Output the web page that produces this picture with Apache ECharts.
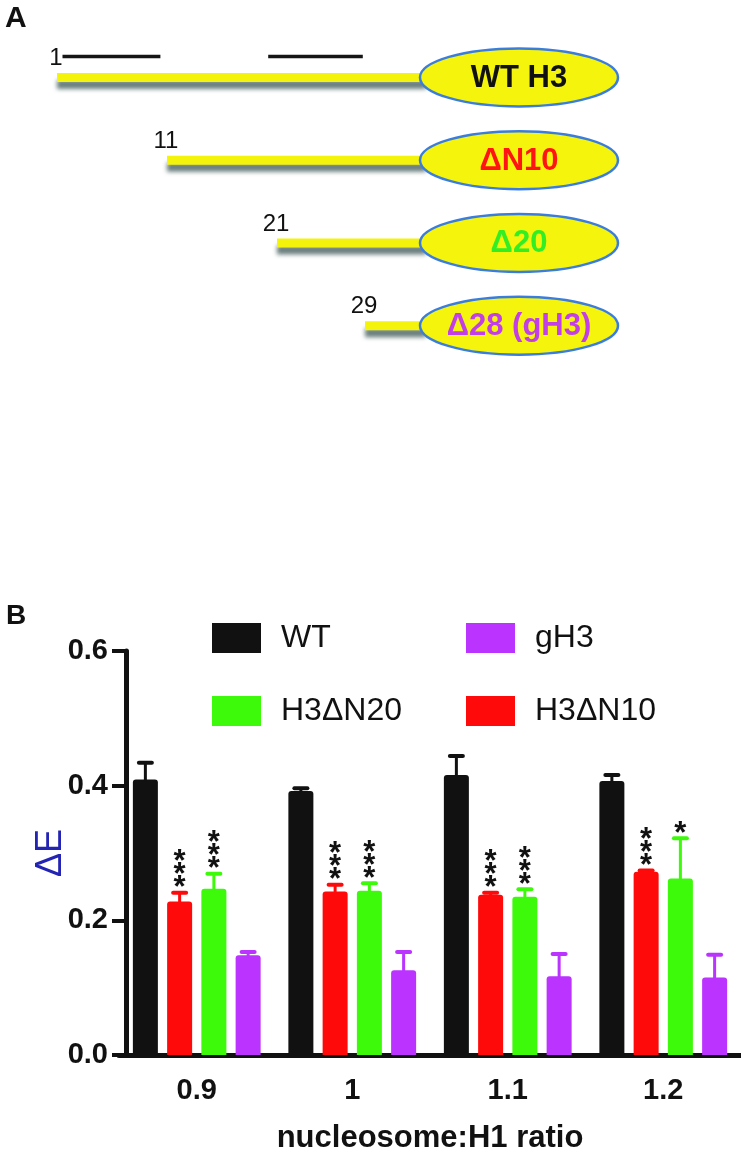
<!DOCTYPE html>
<html><head><meta charset="utf-8">
<script src="https://cdn.jsdelivr.net/npm/echarts@6/dist/echarts.min.js"></script>
<style>html,body{margin:0;padding:0;background:#fff}#c{width:741px;height:1155px}</style>
</head><body><div id="c"></div>
<script>
// ---------- Panel A data (schematic, residue scale) ----------
const constructs = ['WT H3', 'ΔN10', 'Δ20', 'Δ28 (gH3)'];
const constructColors = ['#111111', '#ff1414', '#33ee22', '#c23ee6'];
const startResidues = [1, 11, 21, 29];
const coreStart = 34;
const coreEnd = 52;
const markedRegions = [[1.5, 10.4], [20.2, 28.8]];

// ---------- Panel B data ----------
const ratios = ['0.9', '1', '1.1', '1.2'];
const seriesNames = ['WT', 'H3ΔN10', 'H3ΔN20', 'gH3'];
const seriesColors = ['#111111', '#ff0a0a', '#3cfa0a', '#bb33ff'];
const wtMean = [0.409, 0.392, 0.416, 0.407];
const wtErr = [0.025, 0.004, 0.028, 0.009];
const n10Mean = [0.228, 0.243, 0.238, 0.272];
const n10Err = [0.013, 0.010, 0.003, 0.002];
const n20Mean = [0.247, 0.244, 0.235, 0.262];
const n20Err = [0.022, 0.011, 0.011, 0.060];
const gh3Mean = [0.148, 0.126, 0.117, 0.115];
const gh3Err = [0.005, 0.027, 0.033, 0.034];
const wtSig = ['', '', '', ''];
const n10Sig = ['***', '***', '***', '***'];
const n20Sig = ['***', '***', '***', '*'];
const gh3Sig = ['', '', '', ''];

const FONT = '"Liberation Sans", Arial, sans-serif';
const barW = 25;
const barGapRatio = 0.37;
const barStep = barW * (1 + barGapRatio);

function errSeries(k, means, errs, sigs, color) {
  return {
    type: 'custom', xAxisIndex: 0, yAxisIndex: 0, z: 3,
    encode: { x: 0, y: 1 },
    data: means.map((m, i) => [i, m, errs[i]]),
    renderItem: (params, api) => {
      const i = params.dataIndex;
      const ci = api.value(0), m = api.value(1), e = api.value(2);
      const base = api.coord([ci, m]);
      const tip = api.coord([ci, m + e]);
      const x = base[0] + (k - 1.5) * barStep;
      const children = [
        { type: 'line', shape: { x1: x, y1: base[1] + 2, x2: x, y2: tip[1] }, style: { stroke: color, lineWidth: 3 } },
        { type: 'line', shape: { x1: x - 6.5, y1: tip[1], x2: x + 6.5, y2: tip[1] }, style: { stroke: color, lineWidth: 4, lineCap: 'round' } }
      ];
      const n = sigs[i].length;
      for (let j = 0; j < n; j++) {
        children.push({
          type: 'text', x: x, y: tip[1] - 11 - j * 13 + 7,
          style: { text: '*', fill: '#111', font: 'bold 31px ' + FONT, align: 'center', verticalAlign: 'middle' }
        });
      }
      return { type: 'group', children };
    }
  };
}

const chart = echarts.init(document.getElementById('c'), null, { renderer: 'canvas' });
chart.setOption({
  backgroundColor: '#ffffff',
  animation: false,
  title: [
    { text: 'A', left: 0, top: -1, textStyle: { fontFamily: FONT, fontWeight: 'bold', fontSize: 30, color: '#111' } },
    { text: 'B', left: 1, top: 597, textStyle: { fontFamily: FONT, fontWeight: 'bold', fontSize: 28, color: '#111' } }
  ],
  legend: [
    { data: ['WT', 'H3ΔN20'], orient: 'vertical', left: 207, top: 617, itemWidth: 49, itemHeight: 30, itemGap: 41, icon: 'rect',
      textStyle: { fontFamily: FONT, fontSize: 32, color: '#111', lineHeight: 32, padding: [0, 0, 0, 15] } },
    { data: ['gH3', 'H3ΔN10'], orient: 'vertical', left: 461, top: 617, itemWidth: 49, itemHeight: 30, itemGap: 41, icon: 'rect',
      textStyle: { fontFamily: FONT, fontSize: 32, color: '#111', lineHeight: 32, padding: [0, 0, 0, 15] } }
  ],
  grid: [
    { left: 119, top: 651, width: 627, height: 409, containLabel: false },
    { left: 46, top: 36, width: 605, height: 331, containLabel: false }
  ],
  xAxis: [
    {
      gridIndex: 0, type: 'category', data: ratios,
      axisLine: { lineStyle: { color: '#111', width: 5 } },
      axisTick: { alignWithLabel: true, length: 14, lineStyle: { width: 4, color: '#111' } },
      axisLabel: { fontFamily: FONT, fontWeight: 'bold', fontSize: 29, color: '#111', margin: 21 },
      name: 'nucleosome:H1 ratio', nameLocation: 'middle', nameGap: 68, nameMoveOverlap: false,
      nameTextStyle: { fontFamily: FONT, fontWeight: 'bold', fontSize: 31, color: '#111' }
    },
    { gridIndex: 1, type: 'value', min: 0, max: 55, show: false }
  ],
  yAxis: [
    {
      gridIndex: 0, type: 'value', min: 0, max: 0.6, interval: 0.2, offset: -7,
      axisLine: { show: true, lineStyle: { color: '#111', width: 5 } },
      axisTick: { show: true, length: 14, lineStyle: { width: 4, color: '#111' } },
      axisLabel: { fontFamily: FONT, fontWeight: 'bold', fontSize: 29, color: '#111', margin: 18, formatter: v => v.toFixed(1) },
      splitLine: { show: false },
      name: 'ΔE', nameLocation: 'middle', nameRotate: 90, nameGap: 57, nameMoveOverlap: false,
      nameTextStyle: { fontFamily: FONT, fontSize: 36, color: '#2424b4' }
    },
    { gridIndex: 1, type: 'category', data: constructs, inverse: true, show: false }
  ],
  series: [
    { name: 'WT', type: 'bar', data: wtMean, barWidth: barW, barGap: (barGapRatio * 100) + '%', itemStyle: { color: seriesColors[0], borderRadius: [3, 3, 0, 0] } },
    { name: 'H3ΔN10', type: 'bar', data: n10Mean, barWidth: barW, barGap: (barGapRatio * 100) + '%', itemStyle: { color: seriesColors[1], borderRadius: [3, 3, 0, 0] } },
    { name: 'H3ΔN20', type: 'bar', data: n20Mean, barWidth: barW, barGap: (barGapRatio * 100) + '%', itemStyle: { color: seriesColors[2], borderRadius: [3, 3, 0, 0] } },
    { name: 'gH3', type: 'bar', data: gh3Mean, barWidth: barW, barGap: (barGapRatio * 100) + '%', itemStyle: { color: seriesColors[3], borderRadius: [3, 3, 0, 0] } },
    errSeries(0, wtMean, wtErr, wtSig, seriesColors[0]),
    errSeries(1, n10Mean, n10Err, n10Sig, seriesColors[1]),
    errSeries(2, n20Mean, n20Err, n20Sig, seriesColors[2]),
    errSeries(3, gh3Mean, gh3Err, gh3Sig, seriesColors[3]),
    {
      type: 'custom', xAxisIndex: 1, yAxisIndex: 1, encode: { x: 0, y: 1 },
      data: markedRegions.map(r => [r[0], 0, r[1]]),
      renderItem: (params, api) => {
        const a = api.coord([api.value(0), api.value(1)]);
        const b = api.coord([api.value(2), api.value(1)]);
        return { type: 'line', shape: { x1: a[0], y1: a[1] - 21, x2: b[0], y2: b[1] - 21 }, style: { stroke: '#151515', lineWidth: 3.5 } };
      }
    },
    {
      type: 'custom', xAxisIndex: 1, yAxisIndex: 1, encode: { x: 0, y: 1 },
      data: startResidues.map((s, i) => [s, i]),
      renderItem: (params, api) => {
        const i = params.dataIndex;
        const s = api.coord([api.value(0), api.value(1)]);
        const e = api.coord([coreStart, api.value(1)]);
        const c = api.coord([(coreStart + coreEnd) / 2, api.value(1)]);
        const rx = api.size([(coreEnd - coreStart) / 2, 0])[0];
        return {
          type: 'group', children: [
            { type: 'line', shape: { x1: s[0], y1: s[1], x2: e[0] + 6, y2: e[1] },
              style: { stroke: '#f3f30c', lineWidth: 9, shadowColor: 'rgba(70,95,95,0.8)', shadowBlur: 4, shadowOffsetY: 7 } },
            { type: 'ellipse', shape: { cx: c[0], cy: c[1], rx: rx, ry: 29 },
              style: { fill: '#f4f40c', stroke: '#3b7ddd', lineWidth: 2.5 } },
            { type: 'text', x: c[0], y: c[1] + 1,
              style: { text: constructs[i], fill: constructColors[i], font: 'bold 31px ' + FONT, align: 'center', verticalAlign: 'middle' } },
            { type: 'text', x: s[0] - 1, y: s[1] - 19,
              style: { text: String(startResidues[i]), fill: '#111', font: '24px ' + FONT, align: 'center', verticalAlign: 'middle' } }
          ]
        };
      }
    }
  ]
});
</script>
</body></html>
